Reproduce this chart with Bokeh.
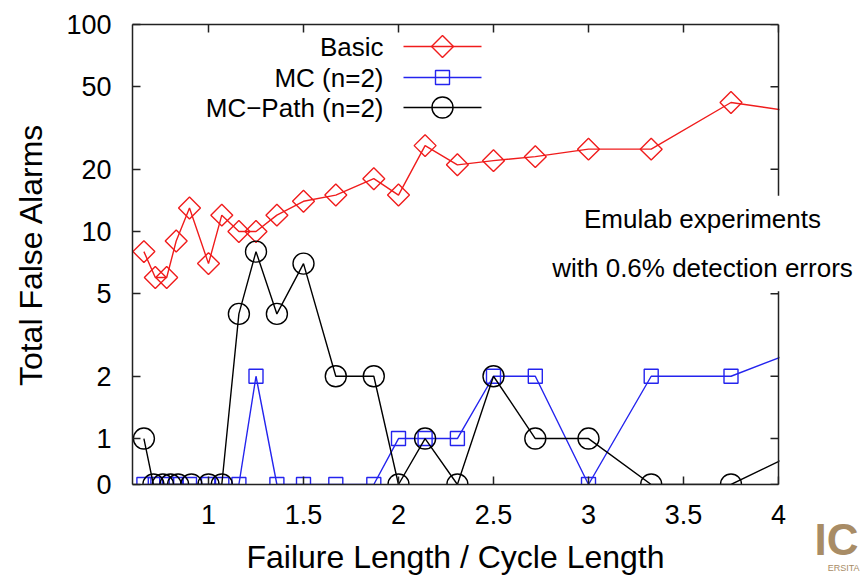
import numpy as np
from bokeh.plotting import figure
from bokeh.models import Range1d, FixedTicker, LinearAxis, Label, Span, BoxAnnotation
from bokeh.core.properties import value
from bokeh.embed import file_html
from bokeh.resources import INLINE

# ---------------- data ----------------
basic_x = [0.66, 0.72, 0.78, 0.83, 0.90, 1.00, 1.07, 1.16, 1.25, 1.36, 1.50, 1.67,
           1.87, 2.00, 2.14, 2.31, 2.50, 2.72, 3.00, 3.33, 3.75, 4.25]
basic_y = [8, 6, 6, 9, 13, 7, 12, 10, 10, 12, 14, 15, 18, 15, 26, 21, 22, 23, 25, 25, 42, 36]

mc_x = [0.66, 0.72, 0.78, 0.83, 0.90, 1.00, 1.07, 1.16, 1.25, 1.36, 1.50, 1.67,
        1.87, 2.00, 2.14, 2.31, 2.50, 2.72, 3.00, 3.33, 3.75, 4.25]
mc_y = [0, 0, 0, 0, 0, 0, 0, 0, 2, 0, 0, 0, 0, 1, 1, 1, 2, 2, 0, 2, 2, 3]

path_x = [0.66, 0.71, 0.76, 0.80, 0.84, 0.91, 1.00, 1.07, 1.16, 1.25, 1.36, 1.50,
          1.67, 1.87, 2.00, 2.14, 2.31, 2.50, 2.72, 3.00, 3.33, 3.75, 4.25]
path_y = [1, 0, 0, 0, 0, 0, 0, 0, 4, 8, 4, 7, 2, 2, 0, 1, 0, 2, 1, 1, 0, 0, 1]

series_names = ["Basic", "MC (n=2)", "MC\u2212Path (n=2)"]
y_ticks = [0, 1, 2, 5, 10, 20, 50, 100]
x_ticks = [1, 1.5, 2, 2.5, 3, 3.5, 4]
x_tick_labels = ["1", "1.5", "2", "2.5", "3", "3.5", "4"]
x_title = "Failure Length / Cycle Length"
y_title = "Total False Alarms"
note_text = "Emulab experiments\nwith 0.6% detection errors"

ZERO = 0.6           # where the value 0 sits on the log axis
XMIN, XMAX = 0.6, 4.0
Y0, Y1 = ZERO, 100

def zmap(vals):
    return [ZERO if v == 0 else v for v in vals]

FONT = "Liberation Sans"
RED, BLUE, BLACK, AX = "#f01c1c", "#2424ee", "#000000", "#222222"
TAN = "#a88c66"

# page geometry (figure pixels == page pixels)
W, H = 860, 577
BL, BT, BB, BR = 132, 24, 93, 2
AX_RIGHT = 778                       # pixel where x = XMAX sits
FW = W - BL - BR
FH = H - BT - BB
X0 = XMIN
X1 = XMIN + (W - BR - BL) / (AX_RIGHT - BL) * (XMAX - XMIN)

p = figure(width=W, height=H, output_backend="svg", toolbar_location=None,
           x_range=Range1d(X0, X1), y_range=Range1d(Y0, Y1), y_axis_type="log",
           min_border_left=BL, min_border_right=BR, min_border_top=BT, min_border_bottom=BB,
           background_fill_color="white", border_fill_color="white")
p.xgrid.visible = False
p.ygrid.visible = False
p.outline_line_color = None

def dx(fx):
    return X0 + (fx - BL) / FW * (X1 - X0)

def dy(fy):
    l0, l1 = np.log10(Y0), np.log10(Y1)
    return 10 ** (l1 - (fy - BT) / FH * (l1 - l0))

ytick_vals = [ZERO if v == 0 else v for v in y_ticks]

def style_axis(ax):
    ax.axis_line_color = AX
    ax.axis_line_width = 1.5
    ax.major_tick_in = 8
    ax.major_tick_out = 0
    ax.major_tick_line_color = AX
    ax.major_tick_line_width = 1.5
    ax.minor_tick_in = 0
    ax.minor_tick_out = 0
    ax.major_label_text_font = FONT
    ax.major_label_text_color = "black"
    ax.major_label_text_font_size = "27px"

yax = p.yaxis[0]
yax.ticker = FixedTicker(ticks=ytick_vals, minor_ticks=[])
yax.major_label_overrides = {tv: str(t) for tv, t in zip(ytick_vals, y_ticks)}
style_axis(yax)
yax.major_label_standoff = 21
yax.axis_label = y_title
yax.axis_label_text_font = FONT
yax.axis_label_text_font_size = "32px"
yax.axis_label_text_font_style = "normal"
yax.axis_label_text_color = "black"
yax.axis_label_standoff = 14

xax = p.xaxis[0]
xax.ticker = FixedTicker(ticks=x_ticks, minor_ticks=[])
xax.major_label_overrides = {t: s for t, s in zip(x_ticks, x_tick_labels)}
xax.bounds = (XMIN, XMAX)
style_axis(xax)
xax.major_label_standoff = 20

# top border line (no labels), bounded to the data frame
tax = LinearAxis(ticker=FixedTicker(ticks=[], minor_ticks=[]), bounds=(XMIN, XMAX))
tax.axis_line_color = AX
tax.axis_line_width = 1.5
tax.major_tick_in = 0
tax.major_tick_out = 0
tax.minor_tick_in = 0
tax.minor_tick_out = 0
p.add_layout(tax, "above")

# texts below the x axis, drawn as label-only axes so they can sit outside the frame
def label_axis(tick, text, size, style, color, standoff):
    ax = LinearAxis(ticker=FixedTicker(ticks=[tick], minor_ticks=[]))
    ax.major_label_overrides = {tick: text}
    ax.axis_line_color = None
    ax.major_tick_line_color = None
    ax.minor_tick_line_color = None
    ax.major_tick_in = 0
    ax.major_tick_out = 0
    ax.major_label_text_font = FONT
    ax.major_label_text_font_size = size
    ax.major_label_text_font_style = style
    ax.major_label_text_color = color
    ax.major_label_standoff = standoff
    p.add_layout(ax, "below")
    return ax

# x-axis title centred under the data frame
label_axis(dx((BL + AX_RIGHT) / 2), x_title, "32px", "normal", "black", 12)
# cropped logo fragment at the bottom right
label_axis(dx(836), "IC", "44px", "bold", TAN, -63)
label_axis(dx(845), "ERSITA", "9px", "normal", TAN, -15)

LW = 1.4
p.line(basic_x, zmap(basic_y), line_color=RED, line_width=LW)
p.scatter(basic_x, zmap(basic_y), marker="square", angle=np.pi / 4, size=15.5,
          fill_color=None, line_color=RED, line_width=LW)
p.line(mc_x, zmap(mc_y), line_color=BLUE, line_width=LW)
p.scatter(mc_x, zmap(mc_y), marker="square", size=14,
          fill_color=None, line_color=BLUE, line_width=LW)
p.line(path_x, zmap(path_y), line_color=BLACK, line_width=LW)
p.scatter(path_x, zmap(path_y), marker="circle", size=21,
          fill_color=None, line_color=BLACK, line_width=LW)

# mirror ticks on the top and right borders (gnuplot style, inward)
TICK = 8
p.segment(x0=x_ticks, x1=x_ticks, y0=[Y1] * len(x_ticks), y1=[dy(BT + TICK)] * len(x_ticks),
          line_color=AX, line_width=1.5)
p.segment(x0=[XMAX] * len(ytick_vals), x1=[dx(AX_RIGHT - TICK)] * len(ytick_vals),
          y0=ytick_vals, y1=ytick_vals, line_color=AX, line_width=1.5)

# blank out everything to the right of the data frame (gnuplot clips there)
p.add_layout(BoxAnnotation(left=dx(AX_RIGHT + 1), fill_color="white", fill_alpha=1.0,
                           line_color=None))
p.add_layout(Span(location=XMAX, dimension="height", line_color=AX, line_width=1.5))

# manual gnuplot-style legend (text on the left, sample on the right)
leg_rows = [46, 77, 107]
leg_text_right = 383
leg_line = (403, 481)
leg_mark = 442
styles = [(RED, "square", np.pi / 4, 15.5), (BLUE, "square", 0, 14), (BLACK, "circle", 0, 21)]
for name, fy, (col, mk, ang, sz) in zip(series_names, leg_rows, styles):
    p.text([dx(leg_text_right)], [dy(fy)], text=[name], text_align="right",
           text_baseline="middle", text_font=value(FONT), text_font_size="26px",
           text_color="black")
    p.line([dx(leg_line[0]), dx(leg_line[1])], [dy(fy), dy(fy)], line_color=col, line_width=LW)
    p.scatter([dx(leg_mark)], [dy(fy)], marker=mk, angle=ang, size=sz,
              fill_color=None, line_color=col, line_width=LW)

# annotation box over the right border
note = Label(x=dx(702), y=dy(243), x_units="data", y_units="data", text=note_text,
             text_align="center", text_baseline="middle", text_font=FONT,
             text_font_size="26px", text_color="black", text_line_height=1.65,
             background_fill_color="white", padding=8)
p.add_layout(note)

open("out.html", "w").write(file_html(p, INLINE))
